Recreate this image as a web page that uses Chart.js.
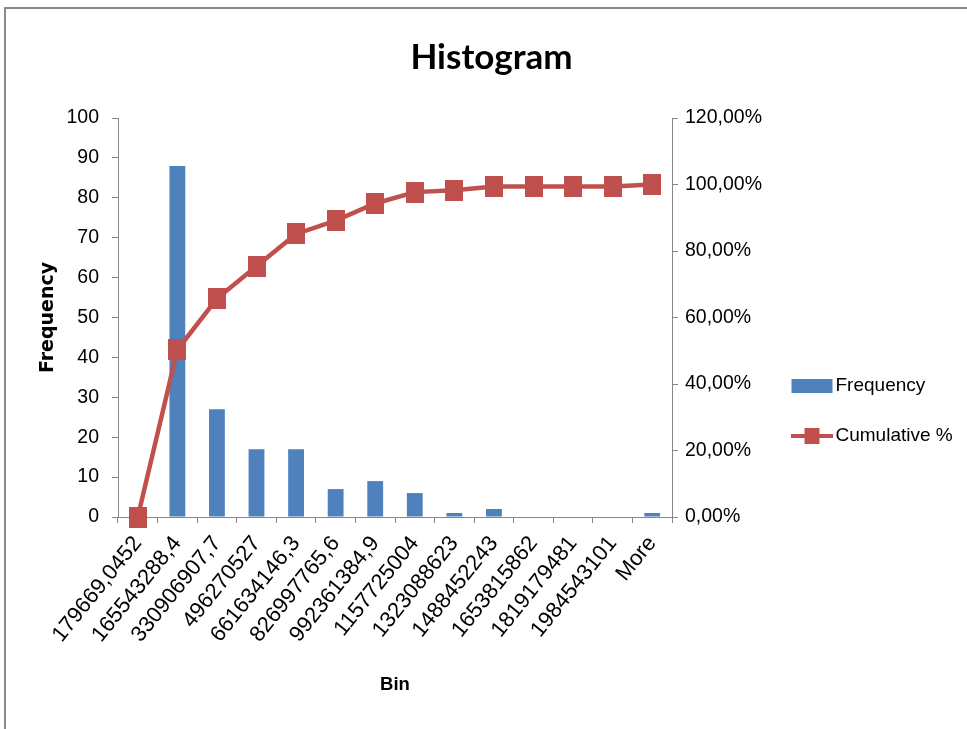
<!DOCTYPE html>
<html><head><meta charset="utf-8">
<script src="https://cdn.jsdelivr.net/npm/chart.js@4.4.1/dist/chart.umd.min.js"></script>
<style>html,body{margin:0;padding:0;background:#fff;overflow:hidden}canvas{display:block}</style>
</head><body>
<canvas id="c" width="967" height="729" style="width:967px;height:729px"></canvas>
<script>
// ---- data ----
const categories = ['179669,0452','165543288,4','330906907,7','496270527','661634146,3','826997765,6','992361384,9','1157725004','1323088623','1488452243','1653815862','1819179481','1984543101','More'];
const frequency = [0, 88, 27, 17, 17, 7, 9, 6, 1, 2, 0, 0, 0, 1];
const cumulativePct = [0, 50.29, 65.71, 75.43, 85.14, 89.14, 94.29, 97.71, 98.29, 99.43, 99.43, 99.43, 99.43, 100];
const seriesNames = ['Frequency', 'Cumulative %'];
const leftAxisRange = [0, 100, 10];
const rightAxisRange = [0, 120, 20];
const chartTitle = 'Histogram';
const xTitle = 'Bin';
const yTitle = 'Frequency';

const BLUE = '#4F81BD', RED = '#C0504D', AXIS = '#868686';
const SANS = "'Liberation Sans',Arial,sans-serif";

function makeIcon(kind) {
  const c = document.createElement('canvas');
  c.width = 42; c.height = 18;
  const g = c.getContext('2d');
  if (kind === 'bar') {
    g.fillStyle = BLUE; g.fillRect(0.5, 2, 41, 14);
  } else {
    g.strokeStyle = RED; g.lineWidth = 4;
    g.beginPath(); g.moveTo(0, 9); g.lineTo(42, 9); g.stroke();
    g.fillStyle = RED; g.fillRect(13.5, 1, 15, 16);
  }
  return c;
}
function makeMarker() {
  const c = document.createElement('canvas');
  c.width = 18; c.height = 21;
  const g = c.getContext('2d');
  g.fillStyle = RED; g.fillRect(0, 0, 18, 21);
  return c;
}
const icons = [makeIcon('bar'), makeIcon('line')];
const marker = makeMarker();

const framePlugin = {
  id: 'frame',
  beforeDraw(chart) {
    const ctx = chart.ctx;
    ctx.save();
    ctx.fillStyle = '#fff';
    ctx.fillRect(0, 0, chart.width, chart.height);
    ctx.strokeStyle = '#8a8a8a';
    ctx.lineWidth = 2;
    ctx.strokeRect(5, 8, chart.width + 40, chart.height + 40);
    ctx.restore();
  }
};

new Chart(document.getElementById('c'), {
  data: {
    labels: categories,
    datasets: [
      {
        type: 'bar', label: seriesNames[0], data: frequency, yAxisID: 'y',
        backgroundColor: BLUE, borderWidth: 0,
        barPercentage: 0.4, categoryPercentage: 1, order: 1
      },
      {
        type: 'line', label: seriesNames[1], data: cumulativePct, yAxisID: 'y1',
        borderColor: RED, borderWidth: 4.5, tension: 0,
        pointStyle: marker, pointRadius: 10, pointBackgroundColor: RED,
        pointBorderColor: RED, clip: false, order: 0
      }
    ]
  },
  options: {
    responsive: false,
    animation: false,
    devicePixelRatio: 1,
    layout: { padding: { left: 26, right: 10, top: 0, bottom: 0 } },
    plugins: {
      tooltip: { enabled: false },
      title: {
        display: true, text: chartTitle, color: '#000',
        font: { family: 'Lato', weight: 'bold', size: 35 },
        padding: { top: 36.5, bottom: 39.5 }
      },
      legend: {
        position: 'right', align: 'center', maxWidth: 190,
        title: { display: true, text: '', font: { size: 1 }, padding: { top: 91.8, bottom: 0 } },
        labels: {
          usePointStyle: true, pointStyleWidth: 28, padding: 31, color: '#000',
          font: { family: SANS, size: 19 },
          generateLabels: () => seriesNames.map((n, i) => ({
            text: n, pointStyle: icons[i], datasetIndex: i, hidden: false,
            fillStyle: i ? RED : BLUE, strokeStyle: i ? RED : BLUE, lineWidth: 0, fontColor: '#000'
          }))
        }
      }
    },
    scales: {
      x: {
        type: 'category', offset: true,
        grid: { display: true, offset: true, drawOnChartArea: false, drawTicks: true, tickLength: 6, color: AXIS },
        border: { display: true, color: AXIS, width: 1 },
        ticks: { autoSkip: false, minRotation: 51, maxRotation: 51, padding: 8, color: '#000',
                 font: { family: SANS, size: 22 } },
        title: { display: true, text: xTitle, color: '#000',
                 font: { family: SANS, weight: 'bold', size: 18.5 }, padding: { top: 0, bottom: 33 } },
        afterFit: s => { s.height = 212; }
      },
      y: {
        type: 'linear', position: 'left', min: leftAxisRange[0], max: leftAxisRange[1],
        grid: { display: true, drawOnChartArea: false, drawTicks: true, tickLength: 6, color: AXIS },
        border: { display: true, color: AXIS, width: 1 },
        ticks: { stepSize: leftAxisRange[2], padding: 13, color: '#000', font: { family: SANS, size: 19.5 } },
        title: { display: true, text: yTitle, color: '#000',
                 font: { family: "'DejaVu Sans',sans-serif", weight: 'bold', size: 19 }, padding: { top: 10.6, bottom: 0 } },
        afterFit: s => { s.width = 92; }
      },
      y1: {
        type: 'linear', position: 'right', min: rightAxisRange[0], max: rightAxisRange[1],
        grid: { display: true, drawOnChartArea: false, drawTicks: true, tickLength: 6, color: AXIS },
        border: { display: true, color: AXIS, width: 1 },
        ticks: { stepSize: rightAxisRange[2], padding: 7, color: '#000', font: { family: SANS, size: 19.5 },
                 callback: v => v.toFixed(2).replace('.', ',') + '%' },
        afterFit: s => { s.width = 95; }
      }
    }
  },
  plugins: [framePlugin]
});
</script>
</body></html>
